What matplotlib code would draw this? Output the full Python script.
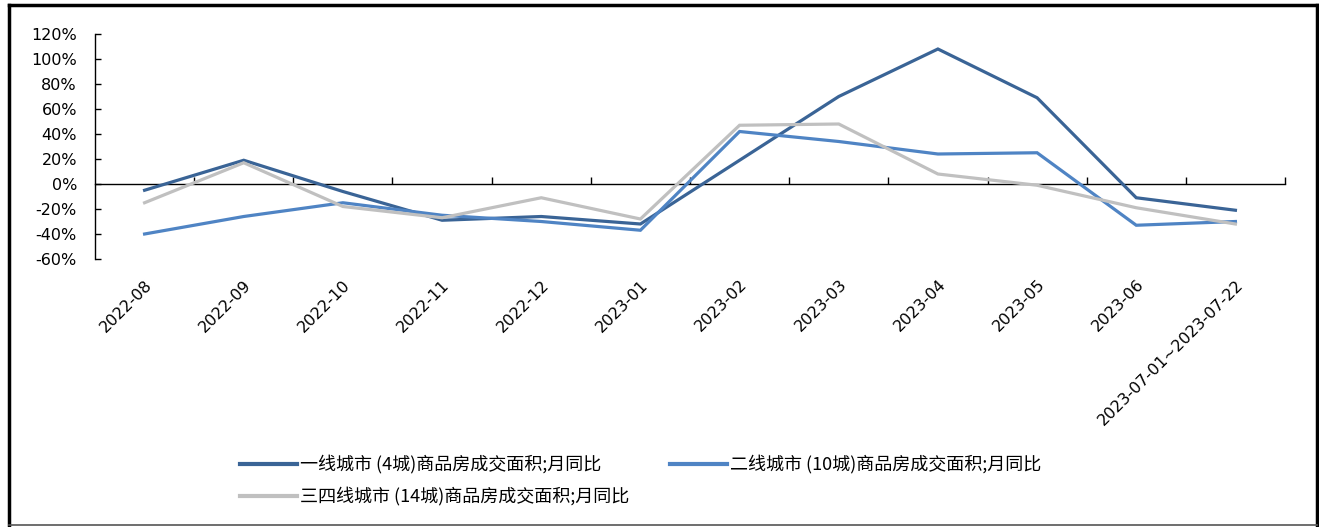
import matplotlib
matplotlib.use("Agg")
import matplotlib.pyplot as plt
from matplotlib.lines import Line2D
from matplotlib.ticker import FuncFormatter
import numpy as np

plt.rcParams['font.family'] = ['DejaVu Sans', 'Noto Sans CJK SC']

months = ["2022-08", "2022-09", "2022-10", "2022-11", "2022-12", "2023-01",
          "2023-02", "2023-03", "2023-04", "2023-05", "2023-06",
          "2023-07-01~2023-07-22"]

tier1 = [-5, 19, -6, -29, -26, -32, 19, 70, 108, 69, -11, -21]
tier2 = [-40, -26, -15, -25, -30, -37, 42, 34, 24, 25, -33, -30]
tier34 = [-15, 17, -18, -27, -11, -28, 47, 48, 8, -1, -19, -32]

names = ["一线城市 (4城)商品房成交面积;月同比",
         "二线城市 (10城)商品房成交面积;月同比",
         "三四线城市 (14城)商品房成交面积;月同比"]
colors = ["#3A6496", "#4F84C4", "#C0C0C0"]

W, H = 1319, 527
fig = plt.figure(figsize=(W / 100, H / 100), dpi=100)

def fx(px):
    return px / W

def fy(py):
    return 1 - py / H

ax = fig.add_axes([fx(95), fy(259), fx(1285) - fx(95), fy(34) - fy(259)])

x = np.arange(len(months))
for vals, c in zip([tier1, tier2, tier34], colors):
    ax.plot(x, vals, color=c, lw=2.3, solid_joinstyle='miter')

ax.set_xlim(-0.5, len(months) - 0.5)
ax.set_ylim(-60, 120)
ax.set_yticks(np.arange(-60, 121, 20))
ax.yaxis.set_major_formatter(FuncFormatter(lambda v, p: f"{int(v)}%"))
ax.tick_params(axis='y', direction='in', length=4, width=1, labelsize=11.5,
               pad=13, colors='black')

for s in ['top', 'right', 'bottom']:
    ax.spines[s].set_visible(False)
ax.spines['left'].set_linewidth(1.0)

# category labels along the bottom
ax.set_xticks(x)
ax.set_xticklabels(months, rotation=45, ha='right', rotation_mode='anchor',
                   fontsize=11.5)
ax.tick_params(axis='x', length=0, pad=13)

# zero line with boundary ticks
zero_ax = ax.secondary_xaxis(60 / 180)
zero_ax.set_xticks(np.arange(0.5, len(months), 1.0))
zero_ax.set_xticklabels([])
zero_ax.tick_params(direction='in', length=5, width=1, color='black')
zero_ax.spines['bottom'].set_linewidth(1.0)
zero_ax.spines['bottom'].set_color('black')

# legend entries
entries = [(240, 464, 0), (670, 464, 1), (240, 496, 2)]
for px, py, i in entries:
    fig.add_artist(Line2D([fx(px), fx(px + 57)], [fy(py), fy(py)],
                          color=colors[i], lw=3.0, transform=fig.transFigure))
    fig.text(fx(px + 60), fy(py), names[i], fontsize=13,
             family=['Noto Sans CJK SC', 'DejaVu Sans'],
             va='center', ha='left', color='black')

# outer frame
fig.add_artist(Line2D([fx(9), fx(9)], [fy(5), fy(525)], color='black', lw=2.5,
                      transform=fig.transFigure))
fig.add_artist(Line2D([fx(9), fx(1317)], [fy(5), fy(5)], color='black', lw=2.5,
                      transform=fig.transFigure))
fig.add_artist(Line2D([fx(1317), fx(1317)], [fy(5), fy(525)], color='black', lw=2.5,
                      transform=fig.transFigure))
fig.add_artist(Line2D([fx(9), fx(1317)], [fy(525), fy(525)], color='#555555', lw=1.2,
                      transform=fig.transFigure))

fig.savefig("out.png", dpi=100)
